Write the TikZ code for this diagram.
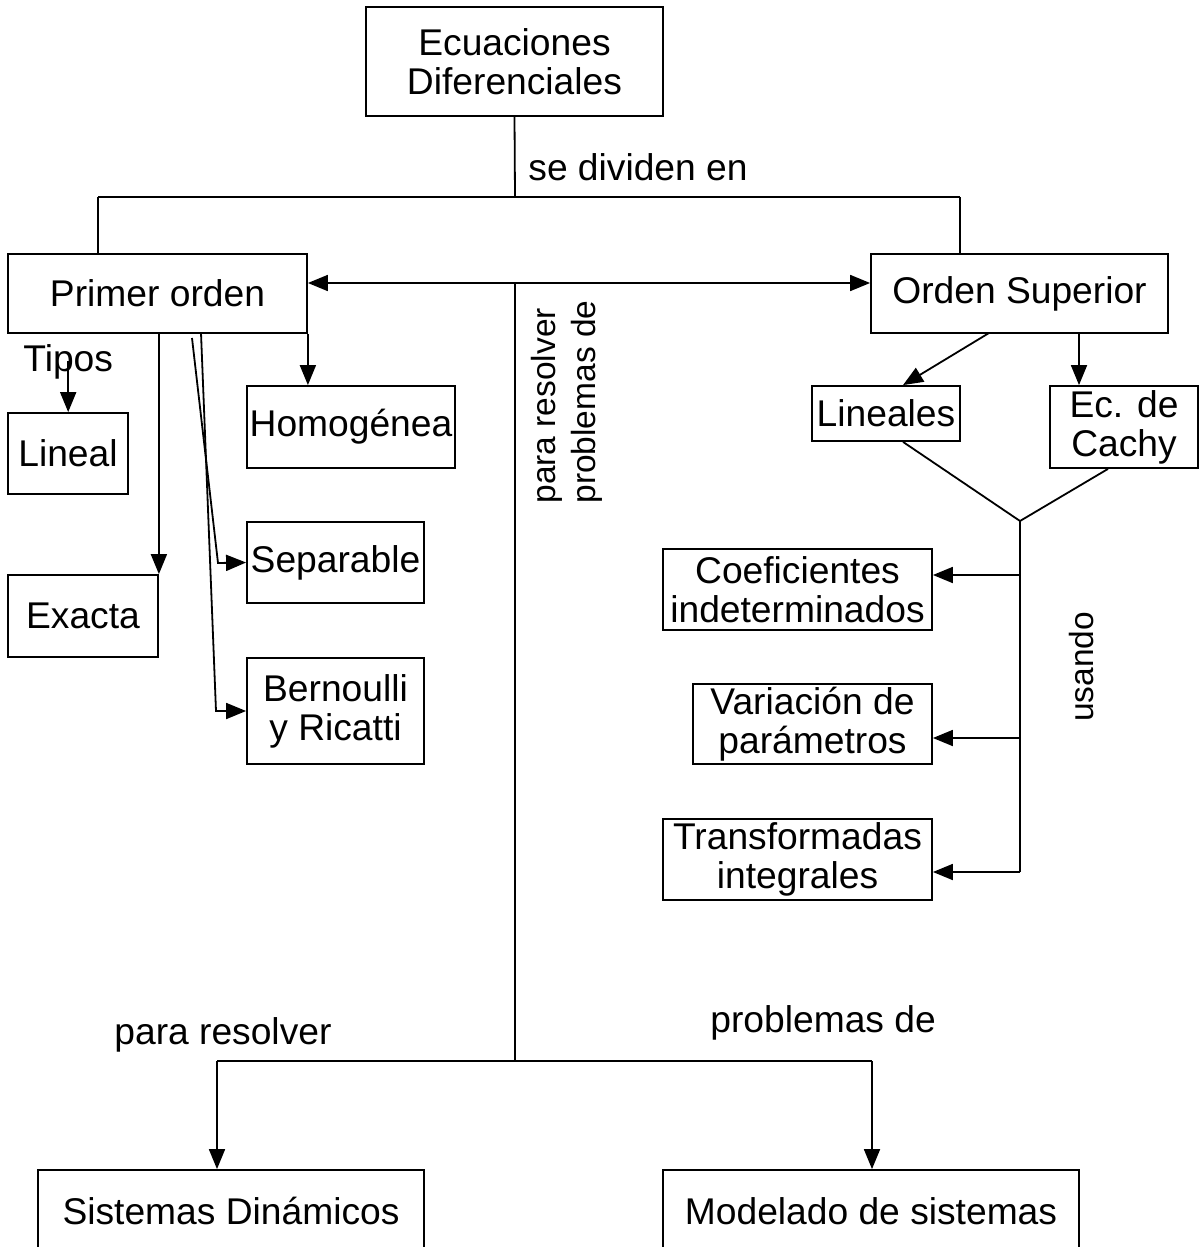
\documentclass[tikz,border=0pt]{standalone}
\usepackage{fontspec}
\setmainfont{Liberation Sans}
\usetikzlibrary{arrows.meta}

\begin{document}
\begin{tikzpicture}[
    x=0.5pt, y=-0.5pt,
    caja/.style={draw, line width=0.9pt, inner sep=0pt, align=center, font=\fontsize{18.6pt}{19.5pt}\selectfont},
    txt/.style={inner sep=0pt, align=left, font=\fontsize{18.6pt}{19.5pt}\selectfont},
    giro/.style={inner sep=0pt, align=left, font=\fontsize{16.75pt}{20pt}\selectfont},
    linea/.style={draw, line width=0.9pt},
    fl/.style={linea, -{Triangle[length=10pt, width=8pt]}},
    fldoble/.style={linea, {Triangle[length=10pt, width=8pt]}-{Triangle[length=10pt, width=8pt]}}
  ]
    \useasboundingbox (0,0) rectangle (1204,1247);

    % Cajas
    \node[caja, minimum width=148.5pt, minimum height=54.5pt] (ecu) at (514.5,61.5) {Ecuaciones\\Diferenciales};
    \node[caja, minimum width=149.5pt, minimum height=39.5pt] (primer) at (157.5,293.5) {Primer orden};
    \node[caja, minimum width=148.5pt, minimum height=39.5pt] (superior) at (1019.5,293.5) {Orden Superior};

    \node[caja, minimum width=60pt, minimum height=40.5pt] (lineal) at (68,453.5) {Lineal};
    \node[caja, minimum width=104pt, minimum height=41pt] (homog) at (351,427) {Homogénea};
    \node[caja, minimum width=75pt, minimum height=41pt] (exacta) at (83,616) {Exacta};
    \node[caja, minimum width=88.5pt, minimum height=40.5pt] (separable) at (335.5,562.5) {Separable};
    \node[caja, minimum width=88.5pt, minimum height=53pt] (bernoulli) at (335.5,711) {Bernoulli\\y Ricatti};

    \node[caja, minimum width=74pt, minimum height=27.5pt] (lineales) at (886,413.5) {Lineales};
    \node[caja, minimum width=74pt, minimum height=41pt] (cachy) at (1124,427) {Ec. de\\Cachy};
    \node[caja, minimum width=134.5pt, minimum height=40.5pt] (coef) at (797.5,589.5) {Coeficientes\\indeterminados};
    \node[caja, minimum width=119.5pt, minimum height=40pt] (variacion) at (812.5,724) {Variación de\\parámetros};
    \node[caja, minimum width=134.5pt, minimum height=40.5pt] (transf) at (797.5,859.5) {Transformadas\\integrales};

    \node[caja, minimum width=193pt, minimum height=41pt] (sistemas) at (231,1211) {Sistemas Dinámicos};
    \node[caja, minimum width=208pt, minimum height=41pt] (modelado) at (871,1211) {Modelado de sistemas};

    % Etiquetas
    \node[txt, anchor=base west] (divlbl) at (528,180) {se dividen en};
    \node[txt, anchor=base west] (tipos) at (23,371) {Tipos};
    \node[giro, rotate=90, anchor=north west] (pararesA) at (531,504) {para resolver\\problemas de};
    \node[giro, rotate=90] (usando) at (1082,667) {usando};
    \node[txt, anchor=base west] (pararesB) at (114,1044) {para resolver};
    \node[txt, anchor=base west] (problemas) at (710,1032) {problemas de};

    % Puntos de paso
    \coordinate (div) at (515,197);
    \coordinate (divI) at (98,197);
    \coordinate (divD) at (960,197);
    \coordinate (ejeA) at (515,283);
    \coordinate (ejeB) at (515,1061);
    \coordinate (bajaI) at (217,1061);
    \coordinate (bajaD) at (872,1061);
    \coordinate (sepIni) at (192,338);
    \coordinate (sepCodo) at (218,563);
    \coordinate (bernIni) at (201,333);
    \coordinate (bernCodo) at (216,711);
    \coordinate (supA) at (989,333);
    \coordinate (supB) at (1079,333);
    \coordinate (usa) at (1020,521);

    % Division principal
    \draw[linea] (ecu.south) -- (div);
    \draw[linea] (divI) -- (divD);
    \draw[linea] (divI) -- (divI |- primer.north);
    \draw[linea] (divD) -- (divD |- superior.north);
    \draw[fldoble] ([yshift=5.25pt]primer.east) -- ([yshift=5.25pt]superior.west);

    % Primer orden
    \draw[fl] (tipos.center) -- (tipos.center |- lineal.north);
    \draw[fl] (primer.south -| exacta.north east) -- (exacta.north east);
    \draw[fl] (primer.south east) -- (primer.south east |- homog.north);
    \draw[fl] (sepIni) -- (sepCodo) -- (separable.west);
    \draw[fl] (bernIni) -- (bernCodo) -- (bernoulli.west);

    % Orden superior
    \draw[fl] (supA) -- ([xshift=8.5pt]lineales.north);
    \draw[fl] (supB) -- (supB |- cachy.north);
    \draw[linea] ([xshift=8.5pt]lineales.south) -- (usa) -- ([xshift=-8pt]cachy.south);
    \foreach \n/\d in {coef/7.25, variacion/-7, transf/-6.25} {
      \coordinate (m\n) at ([yshift=\d pt]\n.east);
      \draw[fl] (m\n -| usa) -- (m\n);
    }
    \draw[linea] (usa) -- (mtransf -| usa);

    % Aplicaciones
    \draw[linea] (ejeA) -- (ejeB);
    \draw[linea] (bajaI) -- (bajaD);
    \draw[fl] (bajaI) -- (bajaI |- sistemas.north);
    \draw[fl] (bajaD) -- (bajaD |- modelado.north);
  \end{tikzpicture}
\end{document}
